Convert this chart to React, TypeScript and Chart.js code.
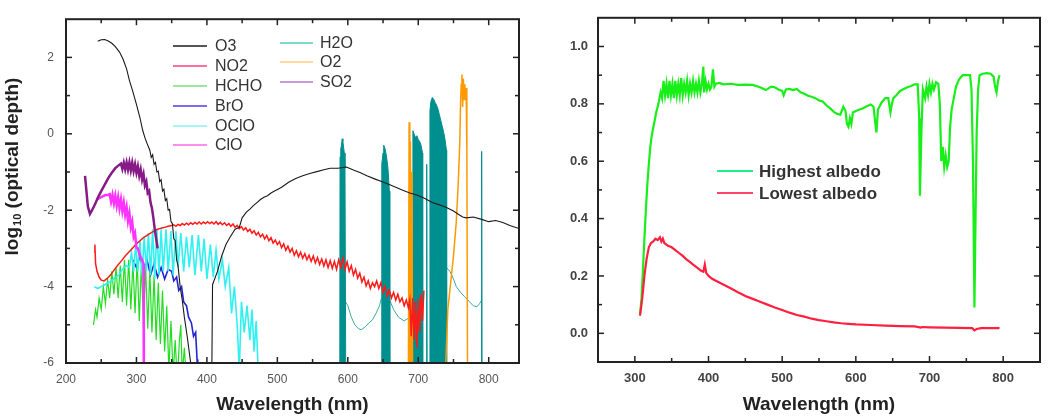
import React, { useEffect, useRef } from 'react';
import { Chart, registerables } from 'chart.js';

Chart.register(...registerables);

type P = [number, number | null];

// ---------------- Left panel: log10(optical depth) vs wavelength ----------------
const O3: P[] = [[245,2.42],[250,2.46],[255,2.47],[260,2.43],[265,2.37],[270,2.28],[276,2.14],[281,1.95],[286,1.7],[290,1.4],[295,1.1],[300,0.77],[305,0.42],[309,0.08],[312,-0.1],[315,-0.25],[319,-0.43],[321,-0.62],[323,-0.55],[325,-0.8],[327,-0.75],[329,-1.0],[331,-0.98],[333,-1.25],[335,-1.2],[337,-1.5],[339,-1.45],[341,-1.75],[343,-1.7],[345,-2.0],[347,-1.98],[349,-2.3],[351,-2.35],[353,-2.75],[355,-2.8],[357,-3.3],[359,-3.45],[362,-4.0],[365,-4.35],[368,-4.8],[372,-5.3],[377,-6.0],[385,-7],[405,-7],[407,-6.2],[408,-3.95],[415,-3.6],[421,-3.2],[427,-2.9],[433,-2.7],[440,-2.5],[446,-2.45],[450,-2.2],[456,-2.05],[461,-1.97],[466,-1.88],[471,-1.8],[476,-1.72],[481,-1.66],[486,-1.62],[491,-1.55],[496,-1.5],[501,-1.45],[506,-1.4],[516,-1.27],[526,-1.17],[536,-1.1],[546,-1.04],[556,-0.99],[566,-0.94],[575,-0.9],[586,-0.9],[598,-0.87],[608,-0.95],[618,-1.02],[627,-1.1],[638,-1.18],[648,-1.25],[658,-1.32],[668,-1.4],[678,-1.48],[688,-1.55],[698,-1.6],[708,-1.68],[720,-1.8],[730,-1.86],[740,-1.93],[750,-2.02],[758,-2.12],[763,-2.18],[768,-2.2],[778,-2.18],[790,-2.24],[800,-2.3],[810,-2.27],[820,-2.32],[830,-2.4],[843,-2.48]];

const NO2: P[] = [[240,-3.1],[241,-2.9],[242,-3.4],[244,-3.6],[247,-3.75],[250,-3.83],[254,-3.85],[259,-3.78],[264,-3.68],[269,-3.55],[274,-3.43],[279,-3.32],[284,-3.2],[290,-3.08],[295,-2.98],[300,-2.88],[305,-2.8],[310,-2.72],[315,-2.66],[320,-2.6],[325,-2.55],[330,-2.5],[335,-2.47],[340,-2.45],[345,-2.42],[350,-2.4],[353,-2.38],[356,-2.42],[359,-2.37],[362,-2.4],[365,-2.35],[368,-2.39],[371,-2.34],[374,-2.38],[377,-2.33],[380,-2.37],[383,-2.32],[386,-2.36],[389,-2.31],[392,-2.36],[395,-2.31],[398,-2.35],[401,-2.3],[404,-2.35],[407,-2.31],[410,-2.36],[413,-2.3],[416,-2.37],[419,-2.32],[422,-2.38],[425,-2.33],[428,-2.4],[431,-2.35],[434,-2.42],[437,-2.36],[440,-2.45],[443,-2.4],[446,-2.48],[449,-2.43],[452,-2.52],[455,-2.46],[458,-2.56],[461,-2.5],[464,-2.6],[467,-2.54],[470,-2.65],[473,-2.58],[476,-2.7],[479,-2.63],[482,-2.75],[485,-2.66],[488,-2.8],[491,-2.72],[494,-2.86],[497,-2.78],[500,-2.9],[503,-2.82],[506,-2.98],[509,-2.88],[512,-3.05],[515,-2.94],[518,-3.1],[521,-3.0],[524,-3.18],[527,-3.06],[530,-3.22],[533,-3.1],[536,-3.26],[539,-3.14],[542,-3.3],[545,-3.18],[548,-3.34],[551,-3.2],[554,-3.38],[557,-3.24],[560,-3.42],[563,-3.28],[566,-3.46],[569,-3.3],[572,-3.5],[575,-3.32],[578,-3.52],[581,-3.34],[584,-3.55],[587,-3.3],[590,-3.5],[593,-3.25],[596,-3.55],[599,-3.35],[602,-3.6],[605,-3.45],[608,-3.7],[611,-3.55],[614,-3.78],[617,-3.65],[620,-3.88],[623,-3.75],[626,-3.98],[629,-3.85],[632,-4.05],[635,-3.9],[638,-4.0],[641,-3.85],[644,-4.05],[647,-3.9],[650,-4.15],[653,-4.0],[656,-4.25],[659,-4.1],[662,-4.3],[665,-4.15],[668,-4.35],[671,-4.2],[674,-4.4],[677,-4.3],[680,-4.5],[683,-4.35],[686,-4.55],[688,-4.35],[690,-5.3],[692,-4.3],[694,-5.4],[696,-4.4],[698,-5.6],[700,-4.3],[702,-5.2],[704,-4.2],[706,-4.9],[708,-4.1]];

const HCHO: P[] = [[239,-5.0],[242,-4.6],[244,-4.8],[247,-4.3],[250,-4.6],[253,-4.0],[256,-4.45],[259,-3.8],[262,-4.3],[265,-3.6],[268,-4.2],[271,-3.5],[274,-4.3],[277,-3.45],[280,-4.4],[283,-3.3],[286,-4.5],[289,-3.3],[292,-4.6],[295,-3.35],[298,-4.7],[301,-3.3],[304,-4.9],[307,-3.4],[310,-5.0],[313,-3.45],[316,-5.1],[319,-3.6],[322,-5.2],[325,-3.7],[328,-5.4],[331,-3.9],[334,-5.5],[337,-4.1],[340,-5.7],[343,-4.5],[346,-6.2],[349,-4.9],[352,-6.3],[355,-5.4],[358,-6.5],[361,-5.4],[363,-5.0],[365,-6.3],[368,-5.6],[371,-6.5]];

const BRO: P[] = [[295,-3.3],[300,-3.5],[305,-3.2],[310,-3.6],[315,-3.3],[320,-3.7],[325,-3.4],[330,-3.75],[335,-3.5],[340,-3.8],[345,-3.55],[350,-3.6],[353,-3.85],[357,-3.75],[360,-4.1],[364,-4.0],[367,-4.4],[371,-4.5],[374,-4.8],[378,-4.95],[381,-5.3],[384,-5.2],[386,-5.9],[387,-6.5]];

const OCLO: P[] = [[240,-4.0],[245,-4.05],[250,-4.0],[255,-3.95],[260,-3.9],[265,-3.85],[270,-3.75],[275,-3.7],[280,-3.55],[285,-3.45],[290,-3.5],[293,-3.1],[296,-3.6],[299,-2.9],[302,-3.6],[305,-2.8],[308,-3.7],[311,-2.7],[314,-3.6],[317,-2.6],[320,-3.7],[323,-2.5],[326,-3.8],[329,-2.5],[332,-3.7],[335,-2.5],[338,-3.6],[342,-2.5],[345,-3.6],[349,-2.55],[352,-3.7],[356,-2.55],[359,-3.5],[363,-2.6],[367,-3.6],[371,-2.7],[375,-3.5],[379,-2.65],[383,-3.7],[388,-2.65],[392,-3.6],[396,-2.75],[400,-3.8],[405,-2.9],[409,-3.75],[413,-3.05],[417,-3.8],[422,-3.3],[426,-4.0],[431,-3.5],[435,-4.7],[439,-4.0],[443,-5.0],[446,-6.2],[449,-4.4],[453,-5.2],[457,-4.5],[461,-5.4],[464,-4.6],[467,-5.7],[470,-4.9],[473,-6.3]];

const CLO: P[] = [[244,-1.72],[248,-1.68],[252,-1.64],[256,-1.6],[260,-1.6],[262,-1.58],[264,-1.78],[266,-1.6],[268,-1.82],[270,-1.62],[272,-1.88],[274,-1.66],[276,-1.95],[278,-1.72],[280,-2.02],[282,-1.8],[284,-2.12],[286,-1.92],[288,-2.28],[290,-2.08],[292,-2.45],[294,-2.3],[296,-2.7],[298,-2.6],[300,-2.98],[302,-3.0],[305,-3.2],[308,-3.3],[310,-3.4],[310.5,-6.5]];

// H2O: saturated absorption bands (filled to the axis floor) and the weak continuum between them
const H2O_BANDS: P[] = [[588.6,-6],[589,-0.6],[590,-0.4],[591,-0.3],[592,-0.13],[593,-0.2],[594,-0.35],[595,-0.5],[596,-0.9],[597,-6],[600,null],[647.8,-6],[648.2,-0.8],[650,-0.5],[651,-0.3],[653,-0.4],[655,-0.6],[657,-0.9],[659,-1.5],[659.6,-6],[670,null],[692,-6],[692.4,0.08],[694,0.0],[696,-0.1],[698,-0.05],[700,-0.15],[702,-0.2],[704,-0.3],[706,-0.5],[706.3,-6],[709,null],[711.5,-6],[712,-0.8],[712.5,-6],[714,null],[716.3,-6],[716.6,0.6],[718,0.85],[720,0.95],[722,0.9],[724,0.82],[726,0.75],[728,0.65],[730,0.5],[732,0.35],[734,0.2],[736,0.05],[738,-0.15],[740,-0.43],[740.3,-6],[745,null],[789.5,-6],[790,-0.46],[790.5,-6]];
const H2O_CONTINUUM: P[] = [[597,-4.4],[600,-4.5],[605,-4.8],[610,-5.0],[615,-5.1],[619,-5.13],[625,-5.05],[630,-4.95],[635,-4.87],[640,-4.7],[645,-4.5],[647.8,-4.3],[652,null],[659.6,-4.36],[665,-4.6],[672,-4.8],[680,-4.9],[688,-4.8],[692,-4.6],[700,null],[740,-3.5],[745,-3.6],[750,-3.8],[754,-4.0],[760,-4.15],[765,-4.25],[773,-4.4],[778,-4.5],[783,-4.53],[787,-4.45],[789.7,-4.36]];

const O2: P[] = [[684,-7],[686,-6.3],[687,0.3],[688,-6],[689,-0.2],[690,-6.2],[691,-1.0],[692,-6.5],[738,-6.5],[742,-4.6],[746,-3.9],[750,-3.2],[754,-2.3],[757,-1.2],[759,-0.2],[760,0.8],[761,1.3],[762,1.55],[763,0.7],[764,1.45],[765,0.9],[766,1.3],[767,1.0],[768,1.2],[769,-0.5],[770,-6.5]];

const SO2: P[] = [[227,-1.1],[229,-1.5],[231,-1.9],[234,-2.1],[237,-2.0],[241,-1.85],[245,-1.68],[250,-1.5],[255,-1.33],[260,-1.16],[265,-1.02],[270,-0.9],[275,-0.82],[278,-0.78],[280,-0.92],[282,-0.76],[284,-0.93],[286,-0.75],[288,-0.94],[290,-0.75],[292,-0.96],[294,-0.76],[296,-0.98],[298,-0.8],[300,-1.02],[302,-0.85],[304,-1.1],[306,-0.93],[308,-1.2],[310,-1.05],[312,-1.35],[314,-1.25],[316,-1.55],[318,-1.5],[320,-1.8],[322,-1.95],[324,-2.2],[326,-2.5],[328,-2.75],[330,-3.0]];

const LEFT_X_TICKS = [200, 300, 400, 500, 600, 700, 800];
const LEFT_X_MINOR = [250, 350, 450, 550, 650, 750];
const LEFT_Y_TICKS = [-6, -4, -2, 0, 2];
const LEFT_Y_MINOR = [-5, -3, -1, 1];

// ---------------- Right panel: albedo vs wavelength ----------------
const HIGH_ALBEDO: P[] = [[307,0.063],[309,0.12],[311,0.22],[313,0.33],[315,0.43],[317,0.52],[319,0.59],[321,0.65],[323,0.69],[326,0.73],[329,0.77],[332,0.8],[335,0.84],[337,0.82],[339,0.88],[341,0.83],[343,0.87],[345,0.82],[347,0.88],[349,0.83],[351,0.87],[353,0.82],[355,0.88],[357,0.83],[359,0.87],[361,0.83],[363,0.89],[365,0.83],[367,0.87],[369,0.84],[371,0.88],[373,0.83],[375,0.87],[377,0.84],[379,0.88],[381,0.84],[383,0.87],[385,0.84],[387,0.88],[389,0.84],[391,0.87],[393,0.93],[394,0.84],[396,0.88],[398,0.85],[400,0.87],[402,0.85],[404,0.86],[406,0.92],[408,0.86],[410,0.87],[415,0.873],[420,0.868],[430,0.87],[440,0.866],[450,0.867],[460,0.866],[470,0.858],[478,0.848],[485,0.86],[490,0.858],[495,0.85],[500,0.845],[502,0.83],[505,0.85],[510,0.852],[515,0.848],[520,0.852],[525,0.84],[530,0.835],[535,0.828],[540,0.825],[545,0.82],[550,0.812],[555,0.808],[560,0.795],[565,0.785],[570,0.772],[575,0.765],[579,0.762],[583,0.79],[586,0.775],[588,0.73],[590,0.72],[592,0.75],[594,0.73],[596,0.77],[600,0.775],[605,0.78],[610,0.785],[615,0.792],[620,0.798],[624,0.79],[627,0.72],[628,0.7],[630,0.78],[635,0.805],[640,0.82],[644,0.82],[647,0.77],[649,0.8],[651,0.82],[655,0.83],[660,0.845],[665,0.852],[670,0.858],[675,0.862],[680,0.868],[684,0.868],[686,0.75],[687,0.48],[689,0.7],[691,0.85],[694,0.82],[696,0.86],[698,0.83],[700,0.87],[702,0.84],[704,0.87],[706,0.85],[709,0.875],[712,0.87],[714,0.8],[716,0.6],[718,0.65],[720,0.58],[722,0.62],[724,0.58],[726,0.6],[728,0.72],[730,0.78],[733,0.82],[736,0.86],[740,0.885],[745,0.9],[750,0.9],[755,0.9],[757,0.85],[759,0.6],[761,0.09],[762,0.3],[764,0.7],[766,0.85],[768,0.9],[772,0.905],[778,0.907],[783,0.905],[787,0.895],[789,0.86],[791,0.84],[793,0.88],[795,0.9]];

const LOW_ALBEDO: P[] = [[307,0.062],[310,0.12],[313,0.2],[316,0.26],[319,0.3],[322,0.315],[325,0.32],[328,0.33],[331,0.325],[334,0.335],[336,0.32],[338,0.33],[340,0.315],[345,0.305],[350,0.3],[355,0.29],[360,0.28],[365,0.27],[370,0.258],[375,0.248],[380,0.238],[385,0.228],[390,0.218],[393,0.215],[395,0.24],[397,0.21],[400,0.2],[405,0.19],[410,0.183],[420,0.17],[430,0.157],[440,0.143],[450,0.13],[460,0.12],[470,0.11],[480,0.1],[490,0.09],[500,0.081],[510,0.072],[520,0.064],[530,0.058],[540,0.051],[550,0.046],[560,0.042],[570,0.038],[580,0.035],[590,0.033],[600,0.031],[620,0.029],[640,0.027],[660,0.025],[680,0.024],[688,0.02],[690,0.022],[700,0.021],[720,0.02],[740,0.019],[758,0.018],[761,0.01],[764,0.015],[770,0.018],[780,0.018],[795,0.018]];

const RIGHT_X_TICKS = [300, 400, 500, 600, 700, 800];
const RIGHT_X_MINOR = [350, 450, 550, 650, 750];
const RIGHT_Y_TICKS = [0, 0.2, 0.4, 0.6, 0.8, 1.0];
const RIGHT_Y_MINOR = [0.1, 0.3, 0.5, 0.7, 0.9];

const FAMILY = '"Liberation Sans", Arial, Helvetica, sans-serif';

function makeFrame(xMajor: number[], xMinor: number[], yMajor: number[], yMinor: number[]) {
  return {
    id: 'frameTicks',
    afterDatasetsDraw(chart: any) {
      const { ctx, chartArea: a, scales } = chart;
      const x = scales.x, y = scales.y;
      ctx.save();
      ctx.strokeStyle = '#222';
      ctx.lineWidth = 2;
      ctx.strokeRect(a.left, a.top, a.right - a.left, a.bottom - a.top);
      ctx.lineWidth = 1.5;
      const seg = (x1: number, y1: number, x2: number, y2: number) => {
        ctx.beginPath(); ctx.moveTo(x1, y1); ctx.lineTo(x2, y2); ctx.stroke();
      };
      const xt = (vals: number[], len: number) => vals.forEach(v => {
        const p = x.getPixelForValue(v);
        seg(p, a.bottom, p, a.bottom - len); seg(p, a.top, p, a.top + len);
      });
      const yt = (vals: number[], len: number) => vals.forEach(v => {
        const p = y.getPixelForValue(v);
        seg(a.left, p, a.left + len, p); seg(a.right, p, a.right - len, p);
      });
      xt(xMajor, 6); xt(xMinor, 4); yt(yMajor, 6); yt(yMinor, 4);
      ctx.restore();
    },
  };
}

type LegendItem = { label: string; color: string; x1: number; x2: number; tx: number; y: number };

function makeLegend(items: LegendItem[], font: string) {
  return {
    id: 'manualLegend',
    afterDraw(chart: any) {
      const ctx = chart.ctx;
      ctx.save();
      items.forEach(it => {
        ctx.strokeStyle = it.color;
        ctx.lineWidth = 2;
        ctx.beginPath(); ctx.moveTo(it.x1, it.y); ctx.lineTo(it.x2, it.y); ctx.stroke();
        ctx.fillStyle = '#333';
        ctx.font = font;
        ctx.textBaseline = 'middle';
        ctx.textAlign = 'left';
        ctx.fillText(it.label, it.tx, it.y + 1);
      });
      ctx.restore();
    },
  };
}

const yTitlePlugin = {
  id: 'yTitleLog',
  afterDraw(chart: any) {
    const ctx = chart.ctx;
    const big = `bold 19px ${FAMILY}`;
    const small = `bold 11px ${FAMILY}`;
    const a = 'log', b = '10', c = ' (optical depth)';
    ctx.save();
    ctx.translate(13, 167);
    ctx.rotate(-Math.PI / 2);
    ctx.fillStyle = '#222';
    ctx.textBaseline = 'middle';
    ctx.textAlign = 'left';
    ctx.font = big; const wa = ctx.measureText(a).width; const wc = ctx.measureText(c).width;
    ctx.font = small; const wb = ctx.measureText(b).width;
    const x0 = -(wa + wb + wc) / 2;
    ctx.font = big; ctx.fillText(a, x0, 0);
    ctx.font = small; ctx.fillText(b, x0 + wa + 1, 5);
    ctx.font = big; ctx.fillText(c, x0 + wa + wb + 1, 0);
    ctx.restore();
  },
};

const toXY = (d: P[]) => d.map(([x, y]) => ({ x, y }));

function line(label: string, data: P[], color: string, width: number, order: number, extra: any = {}) {
  return {
    label, data: toXY(data), borderColor: color, backgroundColor: color,
    borderWidth: width, pointRadius: 0, tension: 0, order, fill: false, spanGaps: false, ...extra,
  };
}

function leftConfig(): any {
  return {
    type: 'line',
    data: {
      datasets: [
        line('O3', O3, '#1a1a1a', 1.1, 0),
        line('NO2', NO2, '#ff1a1a', 1.5, 3),
        line('HCHO', HCHO, '#22dd22', 1.2, 6),
        line('BrO', BRO, '#2424d0', 1.6, 7),
        line('OClO', OCLO, '#30f0f0', 1.6, 5),
        line('ClO', CLO, '#ff33ff', 2.5, 2),
        line('H2O', H2O_BANDS, '#008f8f', 1, 8, { fill: { value: -6 }, backgroundColor: '#008f8f' }),
        line('H2O', H2O_CONTINUUM, '#3aa9a0', 1, 9),
        line('O2', O2, '#ff9900', 1.5, 4),
        line('SO2', SO2, '#861a86', 2.5, 1),
      ],
    },
    options: {
      responsive: false, animation: false, devicePixelRatio: 1,
      layout: { padding: { top: 12, right: 1, left: 0, bottom: 0 } },
      plugins: { legend: { display: false }, tooltip: { enabled: false } },
      scales: {
        x: {
          type: 'linear', min: 200, max: 843,
          afterBuildTicks: (s: any) => { s.ticks = LEFT_X_TICKS.map(v => ({ value: v })); },
          afterFit: (s: any) => { s.height = 53; },
          grid: { display: false, drawTicks: false }, border: { display: false },
          ticks: { padding: 9, color: '#555', font: { size: 12, family: FAMILY }, maxRotation: 0, autoSkip: false },
          title: { display: true, text: 'Wavelength (nm)', color: '#222', font: { size: 19, weight: 'bold', family: FAMILY }, padding: 0 },
        },
        y: {
          type: 'linear', min: -6, max: 3,
          afterBuildTicks: (s: any) => { s.ticks = LEFT_Y_TICKS.map(v => ({ value: v })); },
          afterFit: (s: any) => { s.width = 66; },
          grid: { display: false, drawTicks: false }, border: { display: false },
          ticks: { padding: 12, color: '#555', font: { size: 12, family: FAMILY }, autoSkip: false, callback: (v: number) => String(v) },
        },
      },
    },
    plugins: [
      makeFrame(LEFT_X_TICKS, LEFT_X_MINOR, LEFT_Y_TICKS, LEFT_Y_MINOR),
      makeLegend([
        { label: 'O3', color: '#555555', x1: 173, x2: 207, tx: 215, y: 46 },
        { label: 'NO2', color: '#ff70a0', x1: 173, x2: 207, tx: 215, y: 66 },
        { label: 'HCHO', color: '#9be89b', x1: 173, x2: 207, tx: 215, y: 86 },
        { label: 'BrO', color: '#7b6cf0', x1: 173, x2: 207, tx: 215, y: 106 },
        { label: 'OClO', color: '#a8f4f4', x1: 173, x2: 207, tx: 215, y: 126 },
        { label: 'ClO', color: '#ff8cf0', x1: 173, x2: 207, tx: 215, y: 145 },
        { label: 'H2O', color: '#7fd8cc', x1: 280, x2: 313, tx: 320, y: 43 },
        { label: 'O2', color: '#ffd9a0', x1: 280, x2: 313, tx: 320, y: 62 },
        { label: 'SO2', color: '#c79bd8', x1: 280, x2: 313, tx: 320, y: 82 },
      ], `16px ${FAMILY}`),
      yTitlePlugin,
    ],
  };
}

function rightConfig(): any {
  return {
    type: 'line',
    data: {
      datasets: [
        line('Highest albedo', HIGH_ALBEDO, '#18ee18', 2.2, 1),
        line('Lowest albedo', LOW_ALBEDO, '#ff2040', 2.2, 0),
      ],
    },
    options: {
      responsive: false, animation: false, devicePixelRatio: 1,
      layout: { padding: { top: 2, right: 10, left: 0, bottom: 0 } },
      plugins: { legend: { display: false }, tooltip: { enabled: false } },
      scales: {
        x: {
          type: 'linear', min: 250, max: 850,
          afterBuildTicks: (s: any) => { s.ticks = RIGHT_X_TICKS.map(v => ({ value: v })); },
          afterFit: (s: any) => { s.height = 54; },
          grid: { display: false, drawTicks: false }, border: { display: false },
          ticks: { padding: 9, color: '#444', font: { size: 13, weight: 'bold', family: FAMILY }, maxRotation: 0, autoSkip: false },
          title: { display: true, text: 'Wavelength (nm)', color: '#222', font: { size: 19, weight: 'bold', family: FAMILY }, padding: 0 },
        },
        y: {
          type: 'linear', min: -0.1, max: 1.1,
          afterBuildTicks: (s: any) => { s.ticks = RIGHT_Y_TICKS.map(v => ({ value: v })); },
          afterFit: (s: any) => { s.width = 78; },
          grid: { display: false, drawTicks: false }, border: { display: false },
          ticks: { padding: 10, color: '#444', font: { size: 13, weight: 'bold', family: FAMILY }, autoSkip: false, callback: (v: number) => Number(v).toFixed(1) },
        },
      },
    },
    plugins: [
      makeFrame(RIGHT_X_TICKS, RIGHT_X_MINOR, RIGHT_Y_TICKS, RIGHT_Y_MINOR),
      makeLegend([
        { label: 'Highest albedo', color: '#22ee88', x1: 197, x2: 233, tx: 239, y: 171 },
        { label: 'Lowest albedo', color: '#ff4466', x1: 197, x2: 233, tx: 239, y: 193 },
      ], `bold 17px ${FAMILY}`),
    ],
  };
}

function ChartCanvas({ width, height, build }: { width: number; height: number; build: () => any }) {
  const ref = useRef<HTMLCanvasElement>(null);
  useEffect(() => {
    const chart = new Chart(ref.current as HTMLCanvasElement, build());
    return () => chart.destroy();
  }, []);
  return <canvas ref={ref} width={width} height={height} style={{ display: 'block', width, height }} />;
}

export default function App() {
  return (
    <div style={{ position: 'absolute', left: 0, top: 0, width: 1050, height: 416, background: '#fff' }}>
      <div style={{ position: 'absolute', left: 0, top: 0, width: 520, height: 416 }}>
        <ChartCanvas width={520} height={416} build={leftConfig} />
      </div>
      <div style={{ position: 'absolute', left: 520, top: 0, width: 530, height: 416 }}>
        <ChartCanvas width={530} height={416} build={rightConfig} />
      </div>
    </div>
  );
}
